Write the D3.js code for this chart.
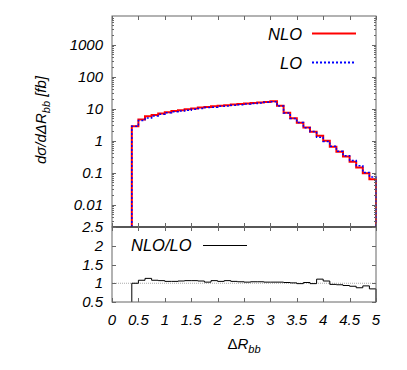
<!DOCTYPE html>
<html>
<head>
<meta charset="utf-8">
<script src="https://cdn.jsdelivr.net/npm/d3@7"></script>
<style>
  body { margin: 0; background: #fff; }
  text { font-family: "Liberation Sans", Arial, sans-serif; font-style: italic; fill: #000; }
</style>
</head>
<body>
<svg id="chart" width="407" height="370"></svg>
<script>
// bin edges: 0.375 .. 5.0 in steps of 0.125
var binEdges = [0.375, 0.5, 0.625, 0.75, 0.875, 1.0, 1.125, 1.25, 1.375, 1.5, 1.625, 1.75, 1.875,
  2.0, 2.125, 2.25, 2.375, 2.5, 2.625, 2.75, 2.875, 3.0, 3.125, 3.25, 3.375, 3.5, 3.625, 3.75,
  3.875, 4.0, 4.125, 4.25, 4.375, 4.5, 4.625, 4.75, 4.875, 5.0];

var nloValues = [2.8, 4.6, 5.8, 6.4, 7.1, 7.8, 8.4, 9.0, 9.6, 10.2, 10.8, 11.3, 11.9, 12.4, 12.9,
  13.4, 13.9, 14.4, 15.0, 15.6, 16.3, 17.0, 12.4, 7.5, 5.0, 3.65, 2.6, 1.9, 1.43, 1.0, 0.65,
  0.45, 0.32, 0.22, 0.144, 0.095, 0.062];

var loValues = [2.8, 4.26, 5.13, 5.93, 6.64, 7.43, 8.0, 8.49, 8.97, 9.53, 10.19, 10.97, 11.12,
  11.81, 12.06, 12.76, 13.37, 13.98, 14.42, 15.0, 15.83, 16.5, 12.04, 7.35, 4.95, 3.69, 2.55,
  1.92, 1.29, 0.94, 0.67, 0.47, 0.34, 0.24, 0.164, 0.102, 0.073];

var ratioValues = [1.00, 1.08, 1.13, 1.08, 1.07, 1.05, 1.05, 1.06, 1.07, 1.07, 1.06, 1.03, 1.07,
  1.05, 1.07, 1.05, 1.04, 1.03, 1.04, 1.04, 1.03, 1.03, 1.03, 1.02, 1.01, 0.99, 1.02, 0.99,
  1.11, 1.06, 0.97, 0.96, 0.94, 0.92, 0.88, 0.93, 0.85];

var xTicks = [0, 0.5, 1, 1.5, 2, 2.5, 3, 3.5, 4, 4.5, 5];
var xTickLabels = ["0", "0.5", "1", "1.5", "2", "2.5", "3", "3.5", "4", "4.5", "5"];
var topTicks = [0.01, 0.1, 1, 10, 100, 1000];
var topTickLabels = ["0.01", "0.1", "1", "10", "100", "1000"];
var botTicks = [0.5, 1, 1.5, 2, 2.5];
var botTickLabels = ["0.5", "1", "1.5", "2", "2.5"];

var svg = d3.select("#chart");
var frameColor = "#666";

var left = 112, right = 376, top1 = 16, mid = 227, bot = 302;

var x = d3.scaleLinear().domain([0, 5]).range([left, right]);
var yTop = d3.scaleLog().domain([0.002, 7900]).range([mid, top1]);
var yBot = d3.scaleLinear().domain([0.5, 2.5]).range([bot, mid]);

// step path helper
function stepPoints(vals, yScale, floor) {
  var pts = [[binEdges[0], floor]];
  vals.forEach(function (v, i) {
    pts.push([binEdges[i], v]);
    pts.push([binEdges[i + 1], v]);
  });
  pts.push([binEdges[binEdges.length - 1], floor]);
  return d3.line().x(d => x(d[0])).y(d => yScale(d[1]))(pts);
}

// ratio reference line
svg.append("line")
  .attr("x1", left).attr("x2", right)
  .attr("y1", yBot(1)).attr("y2", yBot(1))
  .style("stroke", "#aaa").style("stroke-width", 1).style("stroke-dasharray", "1,1");

// histograms
svg.append("path")
  .attr("d", stepPoints(nloValues, yTop, 0.002))
  .style("fill", "none").style("stroke", "#ff0000").style("stroke-width", 2);

svg.append("path")
  .attr("d", stepPoints(loValues, yTop, 0.002))
  .style("fill", "none").style("stroke", "#0000ff").style("stroke-width", 1.5)
  .style("stroke-dasharray", "2,2");

svg.append("path")
  .attr("d", stepPoints(ratioValues, yBot, 0.5))
  .style("fill", "none").style("stroke", "#000").style("stroke-width", 1);

// frames
svg.append("rect").attr("x", left).attr("y", top1).attr("width", right - left).attr("height", mid - top1)
  .style("fill", "none").style("stroke", frameColor);
svg.append("rect").attr("x", left).attr("y", mid).attr("width", right - left).attr("height", bot - mid)
  .style("fill", "none").style("stroke", frameColor);
svg.append("line").attr("x1", left).attr("x2", right).attr("y1", mid).attr("y2", mid)
  .style("stroke", "#222");

var ticks = svg.append("g").style("stroke", frameColor).style("stroke-width", 1);

// x ticks on all horizontal edges, pointing inward
xTicks.forEach(function (t) {
  var px = Math.round(x(t)) + 0.5;
  [[top1, 4], [mid, -4], [mid, 4], [bot, -4]].forEach(function (e) {
    ticks.append("line").attr("x1", px).attr("x2", px).attr("y1", e[0]).attr("y2", e[0] + e[1]);
  });
});

// log ticks (major + minor)
for (var dec = -3; dec <= 3; dec++) {
  for (var m = 1; m <= 9; m++) {
    var v = m * Math.pow(10, dec);
    if (v < 0.002 || v > 7900) continue;
    var py = Math.round(yTop(v)) + 0.5;
    var len = m === 1 ? 4 : 2;
    ticks.append("line").attr("x1", left).attr("x2", left + len).attr("y1", py).attr("y2", py);
    ticks.append("line").attr("x1", right).attr("x2", right - len).attr("y1", py).attr("y2", py);
  }
}

botTicks.forEach(function (t) {
  var py = Math.round(yBot(t)) + 0.5;
  ticks.append("line").attr("x1", left).attr("x2", left + 4).attr("y1", py).attr("y2", py);
  ticks.append("line").attr("x1", right).attr("x2", right - 4).attr("y1", py).attr("y2", py);
});

// tick labels
svg.selectAll(".xl").data(xTicks).enter().append("text")
  .attr("x", d => x(d)).attr("y", 325)
  .attr("text-anchor", "middle").style("font-size", "15px")
  .text((d, i) => xTickLabels[i]);

svg.selectAll(".yl").data(topTicks).enter().append("text")
  .attr("x", 103).attr("y", d => yTop(d) + 5)
  .attr("text-anchor", "end").style("font-size", "15px")
  .text((d, i) => topTickLabels[i]);

svg.selectAll(".yb").data(botTicks).enter().append("text")
  .attr("x", 103).attr("y", d => yBot(d) + 5)
  .attr("text-anchor", "end").style("font-size", "15px")
  .text((d, i) => botTickLabels[i]);

// axis titles
var xl = svg.append("text").attr("x", 244).attr("y", 349)
  .attr("text-anchor", "middle").style("font-size", "15px").style("font-style", "normal");
xl.append("tspan").text("Δ");
xl.append("tspan").style("font-style", "italic").text("R");
xl.append("tspan").attr("dy", 4).style("font-size", "11px").style("font-style", "italic").text("bb");

var yl = svg.append("text")
  .attr("transform", "translate(46,120) rotate(-90)")
  .attr("text-anchor", "middle").style("font-size", "15px");
yl.append("tspan").text("dσ/dΔR");
yl.append("tspan").attr("dy", 4).style("font-size", "11px").text("bb");
yl.append("tspan").attr("dy", -4).text(" [fb]");

// legends
var legend = [
  { label: "NLO", color: "#ff0000", dash: null, width: 2, y: 33.5 },
  { label: "LO", color: "#0000ff", dash: "2,2", width: 2, y: 62.5 }
];
legend.forEach(function (d) {
  svg.append("text").attr("x", 302).attr("y", d.y + 6)
    .attr("text-anchor", "end").style("font-size", "16.5px").text(d.label);
  svg.append("line").attr("x1", 312).attr("x2", 356).attr("y1", d.y).attr("y2", d.y)
    .style("stroke", d.color).style("stroke-width", d.width)
    .style("stroke-dasharray", d.dash);
});

svg.append("text").attr("x", 131).attr("y", 251)
  .style("font-size", "16.5px").text("NLO/LO");
svg.append("line").attr("x1", 203).attr("x2", 247).attr("y1", 245.5).attr("y2", 245.5)
  .style("stroke", "#000").style("stroke-width", 1);
</script>
</body>
</html>
